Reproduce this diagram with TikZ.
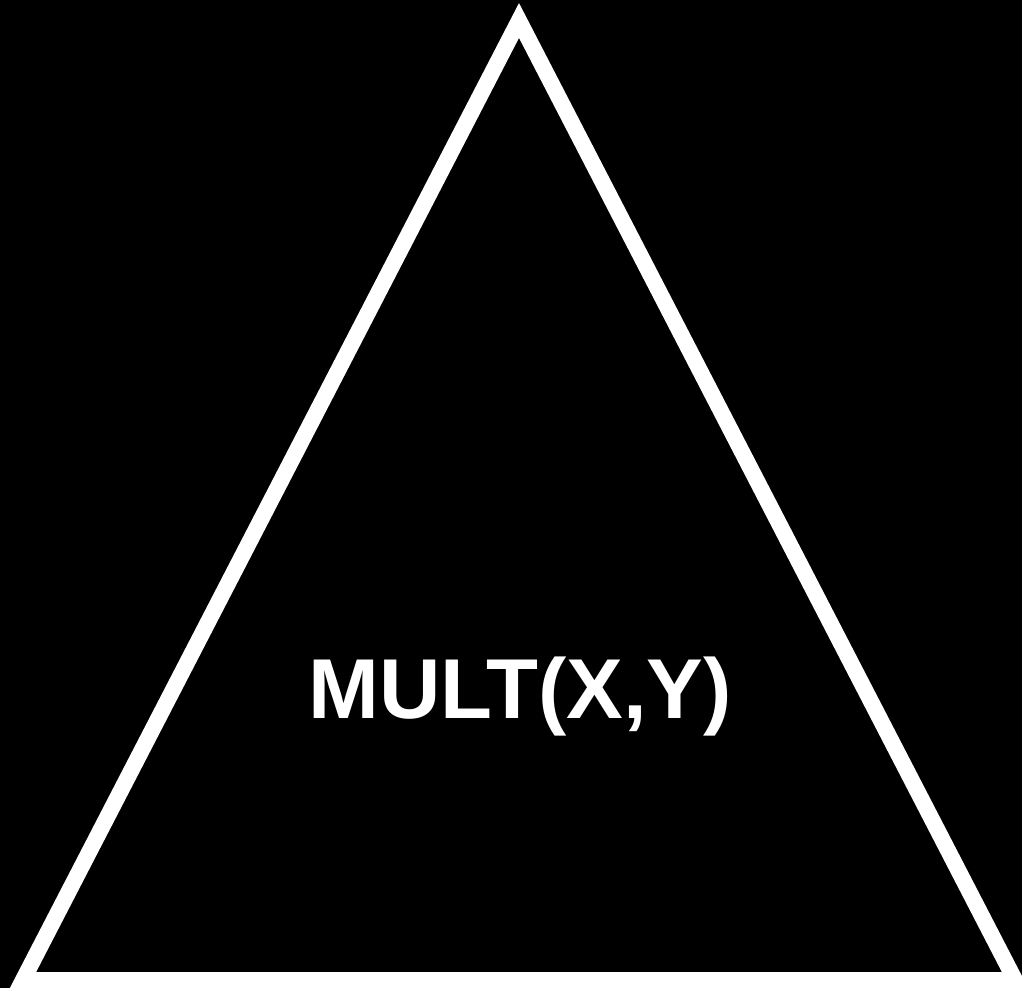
\documentclass[tikz,border=0pt]{standalone}
\usepackage{fontspec}
\setmainfont{Liberation Sans}
\begin{document}
\begin{tikzpicture}[x=1pt,y=-1pt,
  tri/.style={draw=white,line width=16pt,miter limit=10,line join=miter},
  lbl/.style={text=white,font=\fontsize{85}{100}\selectfont\bfseries,inner sep=0pt,anchor=base}]
\fill[black] (0,0) rectangle (1022,988);
\useasboundingbox (0,0) rectangle (1022,988);
\begin{scope}
\clip (0,0) rectangle (1022,988);
\coordinate (A) at (519,20.5);
\coordinate (B) at (23,980);
\coordinate (C) at (1015,980);
\draw[tri] (A) -- (B) -- (C) -- cycle;
\end{scope}
\node[lbl] (t) at (520,718) {MULT(X,Y)};
\end{tikzpicture}
\end{document}
